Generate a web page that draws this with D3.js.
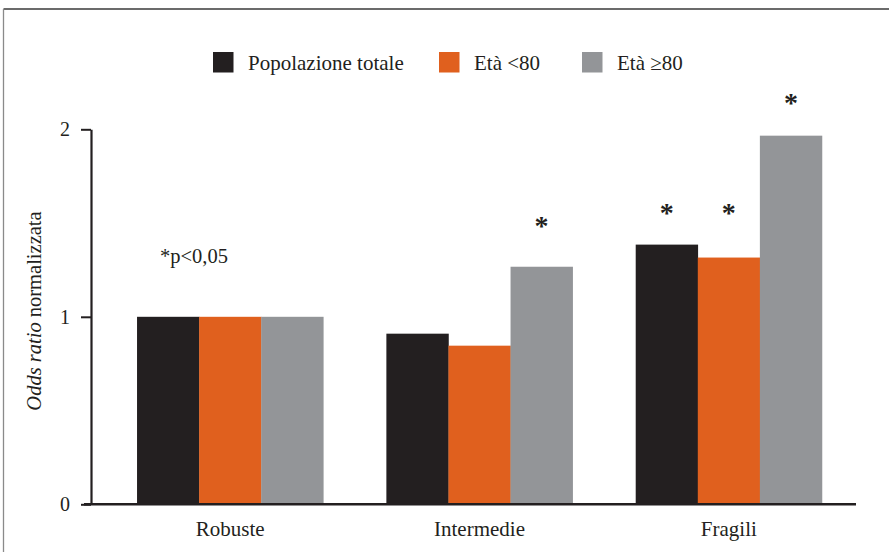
<!DOCTYPE html>
<html>
<head>
<meta charset="utf-8">
<script src="https://cdn.jsdelivr.net/npm/d3@7"></script>
<style>
  html, body { margin: 0; padding: 0; background: #fff; }
  svg { display: block; }
  text { font-family: "Liberation Serif", "Times New Roman", serif; fill: #231f20; }
</style>
</head>
<body>
<svg id="chart" width="889" height="552"></svg>
<script>
// Normalised odds ratios by frailty class
const categories = ["Robuste", "Intermedie", "Fragili"];
const seriesNames = ["Popolazione totale", "Età <80", "Età \u226580"];
const totale = [1.0, 0.91, 1.385];
const under80 = [1.0, 0.846, 1.316];
const over80 = [1.0, 1.267, 1.966];
const yTicks = [0, 1, 2];
// Significance markers: [category index, series index, height of the marker]
const stars = [
  [1, 2, 1.505],
  [2, 0, 1.576],
  [2, 1, 1.576],
  [2, 2, 2.163]
];
const colors = ["#231f20", "#e0601e", "#939598"];

const series = [totale, under80, over80];
const rows = categories.map((c, i) => ({
  cat: c,
  vals: series.map((s, j) => ({ key: j, value: s[i] }))
}));

const svg = d3.select("#chart");

// outer frame
svg.append("line").attr("x1", 3.5).attr("x2", 889).attr("y1", 9).attr("y2", 9)
  .attr("stroke", "#3a3a3a").attr("stroke-width", 1.3);
svg.append("line").attr("x1", 3.5).attr("x2", 3.5).attr("y1", 9).attr("y2", 552)
  .attr("stroke", "#8a8a8a").attr("stroke-width", 1.3);

const y = d3.scaleLinear().domain([0, 2]).range([504.3, 129.3]);
const x0 = d3.scaleBand().domain(categories).range([105.5, 853.5])
  .paddingInner(0.253).paddingOuter(0.1265);
const x1 = d3.scaleBand().domain(d3.range(series.length)).range([0, x0.bandwidth()]);

// bars
const g = svg.append("g");
g.selectAll("g.grp").data(rows).join("g")
  .attr("class", "grp")
  .attr("transform", d => `translate(${x0(d.cat)},0)`)
  .selectAll("rect").data(d => d.vals).join("rect")
  .attr("x", d => x1(d.key))
  .attr("width", x1.bandwidth() + 0.3)
  .attr("y", d => y(d.value))
  .attr("height", d => y(0) - y(d.value))
  .attr("fill", d => colors[d.key]);

// y axis
const yAxis = svg.append("g").attr("transform", "translate(91,0)")
  .call(d3.axisLeft(y).tickValues(yTicks).tickFormat(d3.format("d")).tickSize(10).tickSizeOuter(0).tickPadding(11));
yAxis.select(".domain").attr("stroke", "#231f20").attr("stroke-width", 2.2);
yAxis.selectAll(".tick line").attr("stroke", "#231f20").attr("stroke-width", 2);
yAxis.selectAll(".tick text").attr("font-size", 20).attr("font-family", "Liberation Serif").attr("fill", "#231f20");

// x axis
const xAxis = svg.append("g").attr("transform", `translate(0,${y(0)})`)
  .call(d3.axisBottom(x0).tickSize(0).tickPadding(17));
xAxis.select(".domain").attr("d", "M84,0H856").attr("stroke", "#231f20").attr("stroke-width", 2.6);
xAxis.selectAll(".tick text").attr("font-size", 21).attr("font-family", "Liberation Serif").attr("fill", "#231f20");

// y axis title, centred on the plot height
const yt = svg.append("text")
  .attr("text-anchor", "start")
  .attr("font-size", 20.5);
yt.append("tspan").attr("font-style", "italic").text("Odds ratio");
yt.append("tspan").text("\u00a0normalizzata");
const ytLen = yt.node().getComputedTextLength();
yt.attr("transform", `translate(41,${311 + ytLen / 2}) rotate(-90)`);

// significance markers
svg.selectAll("text.star").data(stars).join("text")
  .attr("class", "star")
  .attr("x", d => x0(categories[d[0]]) + x1(d[1]) + x1.bandwidth() / 2)
  .attr("y", d => y(d[2]))
  .attr("dy", 13)
  .attr("text-anchor", "middle")
  .attr("font-size", 28)
  .attr("font-weight", "bold")
  .text("*");

svg.append("text").attr("x", 160).attr("y", 263).attr("font-size", 20.5).text("*p<0,05");

// legend
const lx = [213, 439, 582];
const lg = svg.append("g").selectAll("g").data(seriesNames).join("g")
  .attr("transform", (d, i) => `translate(${lx[i]},52)`);
lg.append("rect").attr("width", 20.5).attr("height", 20.5).attr("fill", (d, i) => colors[i]);
lg.append("text").attr("x", 35).attr("y", 17.5).attr("font-size", 21).text(d => d);
</script>
</body>
</html>
